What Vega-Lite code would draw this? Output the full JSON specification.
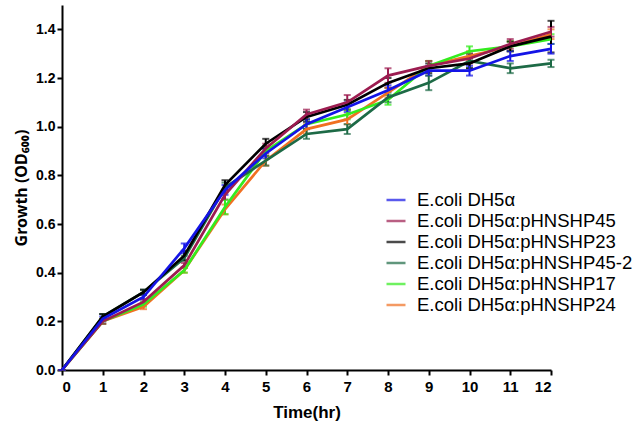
{
  "$schema": "https://vega.github.io/schema/vega-lite/v6.json",
  "width": 489,
  "height": 365,
  "autosize": {"type": "none"},
  "padding": {"left": 62, "top": 5, "right": 87, "bottom": 60},
  "background": "white",
  "config": {"font": "Liberation Sans", "view": {"stroke": null}},
  "data": {"values": [
    {"t":0,"s":"E.coli DH5α:pHNSHP24","v":0,"e":0},
    {"t":1,"s":"E.coli DH5α:pHNSHP24","v":0.20,"e":0.01},
    {"t":2,"s":"E.coli DH5α:pHNSHP24","v":0.26,"e":0.01},
    {"t":3,"s":"E.coli DH5α:pHNSHP24","v":0.41,"e":0.01},
    {"t":4,"s":"E.coli DH5α:pHNSHP24","v":0.66,"e":0.02},
    {"t":5,"s":"E.coli DH5α:pHNSHP24","v":0.86,"e":0.02},
    {"t":6,"s":"E.coli DH5α:pHNSHP24","v":0.99,"e":0.02},
    {"t":7,"s":"E.coli DH5α:pHNSHP24","v":1.03,"e":0.02},
    {"t":8,"s":"E.coli DH5α:pHNSHP24","v":1.14,"e":0.02},
    {"t":9,"s":"E.coli DH5α:pHNSHP24","v":1.25,"e":0.02},
    {"t":10,"s":"E.coli DH5α:pHNSHP24","v":1.29,"e":0.02},
    {"t":11,"s":"E.coli DH5α:pHNSHP24","v":1.33,"e":0.02},
    {"t":12,"s":"E.coli DH5α:pHNSHP24","v":1.38,"e":0.02},
    {"t":0,"s":"E.coli DH5α:pHNSHP17","v":0,"e":0},
    {"t":1,"s":"E.coli DH5α:pHNSHP17","v":0.20,"e":0.01},
    {"t":2,"s":"E.coli DH5α:pHNSHP17","v":0.27,"e":0.01},
    {"t":3,"s":"E.coli DH5α:pHNSHP17","v":0.41,"e":0.01},
    {"t":4,"s":"E.coli DH5α:pHNSHP17","v":0.67,"e":0.03},
    {"t":5,"s":"E.coli DH5α:pHNSHP17","v":0.90,"e":0.02},
    {"t":6,"s":"E.coli DH5α:pHNSHP17","v":1.01,"e":0.02},
    {"t":7,"s":"E.coli DH5α:pHNSHP17","v":1.05,"e":0.02},
    {"t":8,"s":"E.coli DH5α:pHNSHP17","v":1.11,"e":0.02},
    {"t":9,"s":"E.coli DH5α:pHNSHP17","v":1.25,"e":0.02},
    {"t":10,"s":"E.coli DH5α:pHNSHP17","v":1.31,"e":0.02},
    {"t":11,"s":"E.coli DH5α:pHNSHP17","v":1.33,"e":0.02},
    {"t":12,"s":"E.coli DH5α:pHNSHP17","v":1.36,"e":0.02},
    {"t":0,"s":"E.coli DH5α:pHNSHP45-2","v":0,"e":0},
    {"t":1,"s":"E.coli DH5α:pHNSHP45-2","v":0.22,"e":0.01},
    {"t":2,"s":"E.coli DH5α:pHNSHP45-2","v":0.32,"e":0.01},
    {"t":3,"s":"E.coli DH5α:pHNSHP45-2","v":0.46,"e":0.01},
    {"t":4,"s":"E.coli DH5α:pHNSHP45-2","v":0.75,"e":0.02},
    {"t":5,"s":"E.coli DH5α:pHNSHP45-2","v":0.86,"e":0.02},
    {"t":6,"s":"E.coli DH5α:pHNSHP45-2","v":0.97,"e":0.02},
    {"t":7,"s":"E.coli DH5α:pHNSHP45-2","v":0.99,"e":0.02},
    {"t":8,"s":"E.coli DH5α:pHNSHP45-2","v":1.12,"e":0.02},
    {"t":9,"s":"E.coli DH5α:pHNSHP45-2","v":1.18,"e":0.03},
    {"t":10,"s":"E.coli DH5α:pHNSHP45-2","v":1.27,"e":0.03},
    {"t":11,"s":"E.coli DH5α:pHNSHP45-2","v":1.24,"e":0.02},
    {"t":12,"s":"E.coli DH5α:pHNSHP45-2","v":1.26,"e":0.015},
    {"t":0,"s":"E.coli DH5α:pHNSHP23","v":0,"e":0},
    {"t":1,"s":"E.coli DH5α:pHNSHP23","v":0.22,"e":0.01},
    {"t":2,"s":"E.coli DH5α:pHNSHP23","v":0.32,"e":0.01},
    {"t":3,"s":"E.coli DH5α:pHNSHP23","v":0.47,"e":0.02},
    {"t":4,"s":"E.coli DH5α:pHNSHP23","v":0.76,"e":0.02},
    {"t":5,"s":"E.coli DH5α:pHNSHP23","v":0.93,"e":0.02},
    {"t":6,"s":"E.coli DH5α:pHNSHP23","v":1.04,"e":0.02},
    {"t":7,"s":"E.coli DH5α:pHNSHP23","v":1.09,"e":0.02},
    {"t":8,"s":"E.coli DH5α:pHNSHP23","v":1.18,"e":0.02},
    {"t":9,"s":"E.coli DH5α:pHNSHP23","v":1.24,"e":0.02},
    {"t":10,"s":"E.coli DH5α:pHNSHP23","v":1.26,"e":0.02},
    {"t":11,"s":"E.coli DH5α:pHNSHP23","v":1.33,"e":0.02},
    {"t":12,"s":"E.coli DH5α:pHNSHP23","v":1.37,"e":0.065},
    {"t":0,"s":"E.coli DH5α:pHNSHP45","v":0,"e":0},
    {"t":1,"s":"E.coli DH5α:pHNSHP45","v":0.20,"e":0.01},
    {"t":2,"s":"E.coli DH5α:pHNSHP45","v":0.28,"e":0.01},
    {"t":3,"s":"E.coli DH5α:pHNSHP45","v":0.43,"e":0.01},
    {"t":4,"s":"E.coli DH5α:pHNSHP45","v":0.72,"e":0.02},
    {"t":5,"s":"E.coli DH5α:pHNSHP45","v":0.91,"e":0.02},
    {"t":6,"s":"E.coli DH5α:pHNSHP45","v":1.05,"e":0.02},
    {"t":7,"s":"E.coli DH5α:pHNSHP45","v":1.10,"e":0.03},
    {"t":8,"s":"E.coli DH5α:pHNSHP45","v":1.21,"e":0.03},
    {"t":9,"s":"E.coli DH5α:pHNSHP45","v":1.25,"e":0.02},
    {"t":10,"s":"E.coli DH5α:pHNSHP45","v":1.28,"e":0.02},
    {"t":11,"s":"E.coli DH5α:pHNSHP45","v":1.34,"e":0.02},
    {"t":12,"s":"E.coli DH5α:pHNSHP45","v":1.39,"e":0.02},
    {"t":0,"s":"E.coli DH5α","v":0,"e":0},
    {"t":1,"s":"E.coli DH5α","v":0.21,"e":0.01},
    {"t":2,"s":"E.coli DH5α","v":0.30,"e":0.01},
    {"t":3,"s":"E.coli DH5α","v":0.50,"e":0.02},
    {"t":4,"s":"E.coli DH5α","v":0.74,"e":0.02},
    {"t":5,"s":"E.coli DH5α","v":0.89,"e":0.02},
    {"t":6,"s":"E.coli DH5α","v":1.01,"e":0.02},
    {"t":7,"s":"E.coli DH5α","v":1.08,"e":0.02},
    {"t":8,"s":"E.coli DH5α","v":1.15,"e":0.02},
    {"t":9,"s":"E.coli DH5α","v":1.23,"e":0.02},
    {"t":10,"s":"E.coli DH5α","v":1.23,"e":0.02},
    {"t":11,"s":"E.coli DH5α","v":1.29,"e":0.02},
    {"t":12,"s":"E.coli DH5α","v":1.32,"e":0.02}
  ]},
  "encoding": {
    "x": {
      "field": "t", "type": "quantitative",
      "scale": {"domain": [0, 12], "nice": false},
      "axis": {
        "title": "Time(hr)", "values": [0,1,2,3,4,5,6,7,8,9,10,11,12],
        "grid": false, "domainColor": "black", "domainWidth": 2,
        "tickColor": "black", "tickWidth": 2, "tickSize": 5,
        "labelFontSize": 15, "labelFontWeight": "bold", "labelColor": "black", "labelPadding": 4,
        "titleFontSize": 17, "titleFontWeight": "bold", "titleColor": "black", "titlePadding": 10
      }
    },
    "y": {
      "field": "v", "type": "quantitative",
      "scale": {"domain": [0, 1.5], "nice": false},
      "axis": {
        "title": "Growth (OD₆₀₀)", "values": [0,0.2,0.4,0.6,0.8,1.0,1.2,1.4], "format": ".1f",
        "grid": false, "domainColor": "black", "domainWidth": 2,
        "tickColor": "black", "tickWidth": 2, "tickSize": 5,
        "labelFontSize": 14, "labelFontWeight": "bold", "labelColor": "black", "labelPadding": 2,
        "titleFont": "Noto Sans",
        "titleFontSize": 16, "titleFontWeight": "bold", "titleColor": "black", "titlePadding": 6
      }
    },
    "color": {
      "field": "s", "type": "nominal",
      "scale": {
        "domain": ["E.coli DH5α", "E.coli DH5α:pHNSHP45", "E.coli DH5α:pHNSHP23", "E.coli DH5α:pHNSHP45-2", "E.coli DH5α:pHNSHP17", "E.coli DH5α:pHNSHP24"],
        "range": ["#1414e6", "#9c1c50", "#000000", "#1d6a46", "#33ec1e", "#f07022"]
      },
      "legend": {
        "title": null, "orient": "none", "legendX": 323, "legendY": 184,
        "symbolType": "stroke", "symbolSize": 361, "symbolStrokeWidth": 2.5,
        "labelFontSize": 18.5, "labelColor": "black", "labelOffset": 10, "labelLimit": 300,
        "rowPadding": 0, "padding": 0
      }
    }
  },
  "layer": [
    {"mark": {"type": "errorbar", "ticks": {"size": 7}, "thickness": 2}, "encoding": {"yError": {"field": "e"}}},
    {"mark": {"type": "line", "strokeWidth": 2.7}}
  ]
}
